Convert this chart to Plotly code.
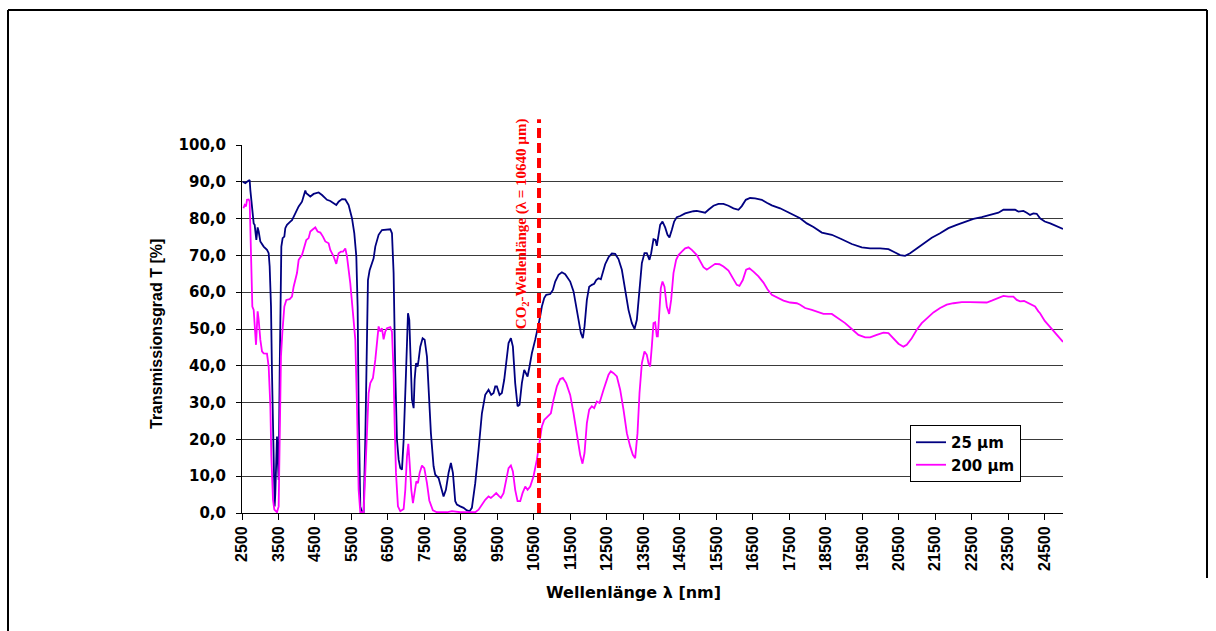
import plotly.graph_objects as go

# --- transmission spectra: wavelength [nm] and transmission [%] ---
wl_25 = [2520, 2591, 2637, 2683, 2710, 2728, 2774, 2820, 2847, 2865, 2893, 2929, 2957, 3002,
         3094, 3185, 3231, 3258, 3295, 3322, 3349, 3368, 3395, 3413, 3440, 3459, 3477, 3505,
         3532, 3550, 3578, 3614, 3660, 3687, 3733, 3824, 3870, 3961, 4053, 4144, 4189, 4235,
         4262, 4326, 4372, 4463, 4600, 4692, 4829, 4920, 5011, 5084, 5148, 5240, 5331, 5422,
         5514, 5578, 5633, 5669, 5696, 5742, 5788, 5833, 5879, 5925, 5952, 5998, 6062, 6107,
         6153, 6244, 6336, 6473, 6564, 6610, 6655, 6701, 6747, 6793, 6838, 6884, 6930, 6994,
         7049, 7085, 7112, 7158, 7204, 7231, 7268, 7313, 7340, 7386, 7450, 7505, 7569, 7613,
         7677, 7750, 7796, 7887, 7951, 8024, 8088, 8161, 8225, 8280, 8344, 8390, 8481, 8572,
         8663, 8737, 8800, 8892, 8983, 9075, 9166, 9257, 9330, 9394, 9440, 9485, 9558, 9622,
         9686, 9759, 9805, 9869, 9924, 9987, 10052, 10106, 10170, 10234, 10289, 10326, 10380,
         10444, 10536, 10600, 10654, 10718, 10782, 10837, 10947, 11020, 11084, 11175, 11266,
         11357, 11494, 11586, 11659, 11723, 11787, 11841, 11887, 11951, 12015, 12088, 12152,
         12207, 12271, 12335, 12389, 12453, 12545, 12636, 12727, 12818, 12910, 13001, 13092,
         13184, 13257, 13321, 13394, 13458, 13530, 13594, 13667, 13713, 13777, 13832, 13868,
         13914, 13960, 14024, 14097, 14161, 14215, 14279, 14343, 14416, 14508, 14645, 14782,
         14873, 14964, 15056, 15193, 15284, 15421, 15558, 15695, 15832, 15969, 16106, 16197,
         16307, 16425, 16562, 16745, 16882, 17019, 17247, 17430, 17613, 17796, 17979, 18161,
         18390, 18664, 18937, 19211, 19485, 19714, 19988, 20216, 20399, 20536, 20673, 20810,
         20992, 21175, 21403, 21632, 21860, 22088, 22316, 22545, 22773, 23001, 23230, 23367,
         23549, 23686, 23778, 23915, 24006, 24097, 24188, 24280, 24371, 24500, 24650, 24800,
         25000]
t_25 = [90.0, 89.6, 90.0, 90.3, 90.5, 87.8, 83.3, 78.7, 78.3, 76.9, 74.2, 77.6, 76.5, 73.8,
        72.4, 71.5, 70.6, 67.0, 56.1, 38.0, 19.9, 6.3, 1.8, 5.4, 19.9, 20.8, 15.4, 9.0,
        38.0, 56.1, 72.4, 74.7, 75.1, 77.4, 78.3, 79.2, 79.6, 81.4, 83.3, 84.6, 86.0, 87.6,
        86.9, 86.4, 86.0, 86.7, 87.1, 86.4, 85.1, 84.8, 84.2, 83.7, 84.6, 85.3, 85.2, 83.7,
        80.1, 76.0, 69.7, 56.1, 29.0, 1.8, 0.2, 0.2, 19.9, 47.0, 63.3, 66.0, 67.9, 69.2,
        72.4, 75.6, 76.9, 76.9, 77.1, 76.0, 65.2, 38.0, 19.9, 14.5, 12.2, 11.8, 19.9, 38.0,
        54.3, 52.5, 42.5, 30.8, 28.5, 36.2, 40.7, 39.8, 41.6, 45.2, 47.5, 47.1, 42.5, 33.5,
        21.7, 12.7, 10.4, 9.5, 7.2, 4.5, 6.3, 10.9, 13.6, 10.9, 3.2, 2.3, 1.8, 1.4,
        0.7, 0.5, 1.4, 8.1, 17.2, 27.1, 32.1, 33.5, 32.1, 32.6, 34.4, 34.4, 32.1, 32.6,
        36.2, 42.5, 46.2, 47.5, 45.2, 35.3, 29.0, 29.4, 35.3, 38.9, 38.0, 37.1, 39.8,
        43.4, 47.1, 49.8, 52.5, 56.1, 58.4, 59.3, 59.5, 60.6, 62.9, 64.7, 65.4,
        64.9, 62.9, 60.2, 56.1, 52.0, 48.9, 47.5, 50.7, 57.9, 61.5, 62.0, 62.3,
        63.3, 63.8, 63.5, 65.4, 67.6, 69.5, 70.5, 70.4, 69.0, 66.1, 60.6, 55.2,
        51.6, 50.0, 52.5, 61.5, 67.9, 70.6, 70.6, 68.8, 70.6, 74.4, 74.2, 72.6,
        75.1, 78.3, 79.2, 77.6, 75.6, 74.9, 76.9, 79.2, 80.4, 80.7, 81.4, 81.8,
        82.0, 82.1, 81.9, 81.6, 82.4, 83.5, 84.0, 84.0, 83.5, 82.8, 82.4, 83.4,
        85.1, 85.6, 85.5, 85.1, 84.3, 83.6, 82.8, 81.9, 81.2, 80.1, 78.7, 77.7,
        76.2, 75.6, 74.4, 73.1, 72.2, 71.9, 71.9, 71.7, 70.8, 70.1, 69.9, 70.6,
        71.9, 73.3, 74.8, 76.0, 77.4, 78.3, 79.2, 79.9, 80.4, 81.0, 81.6, 82.4,
        82.5, 82.4, 81.9, 82.1, 81.6, 81.0, 81.4, 81.3, 80.1, 79.2, 78.7, 78.0,
        77.2]

wl_200 = [2540, 2573, 2610, 2637, 2683, 2710, 2728, 2756, 2783, 2820, 2847, 2884, 2929, 2957,
          3002, 3048, 3094, 3185, 3231, 3277, 3304, 3349, 3386, 3459, 3505, 3532, 3568, 3605,
          3660, 3715, 3806, 3870, 3915, 4007, 4053, 4144, 4207, 4262, 4326, 4372, 4445, 4509,
          4573, 4646, 4719, 4783, 4874, 4920, 5011, 5084, 5148, 5212, 5267, 5331, 5377, 5422,
          5468, 5541, 5605, 5651, 5696, 5742, 5833, 5879, 5925, 5970, 6016, 6089, 6153, 6198,
          6244, 6290, 6336, 6381, 6427, 6473, 6564, 6610, 6655, 6683, 6720, 6774, 6838, 6930,
          6975, 7021, 7058, 7094, 7140, 7185, 7231, 7277, 7322, 7368, 7432, 7496, 7569, 7633,
          7732, 7842, 8116, 8253, 8481, 8892, 8983, 9075, 9166, 9257, 9321, 9394, 9467, 9531,
          9595, 9668, 9741, 9805, 9869, 9924, 9987, 10052, 10125, 10188, 10262, 10326, 10398,
          10490, 10581, 10654, 10718, 10782, 10901, 10965, 11038, 11129, 11220, 11294, 11385,
          11494, 11586, 11677, 11768, 11832, 11887, 11951, 12015, 12088, 12152, 12225, 12298,
          12408, 12481, 12545, 12608, 12682, 12773, 12864, 12955, 13047, 13138, 13211, 13275,
          13339, 13394, 13458, 13530, 13594, 13640, 13686, 13731, 13777, 13823, 13868, 13896,
          13932, 13978, 14024, 14078, 14142, 14206, 14261, 14325, 14398, 14462, 14553, 14645,
          14736, 14827, 14964, 15056, 15147, 15238, 15357, 15467, 15585, 15695, 15832, 15950,
          16060, 16133, 16225, 16316, 16407, 16517, 16654, 16791, 16900, 17019, 17156, 17339,
          17521, 17704, 17796, 17933, 18116, 18298, 18435, 18664, 18846, 19029, 19211, 19394,
          19577, 19714, 19896, 20079, 20216, 20353, 20490, 20627, 20718, 20855, 20992, 21129,
          21266, 21449, 21632, 21814, 21997, 22225, 22453, 22682, 22910, 23047, 23230, 23367,
          23504, 23640, 23732, 23823, 23933, 24051, 24143, 24234, 24325, 24371, 24500, 24650,
          24800, 25000]
t_200 = [82.8, 83.7, 83.3, 85.1, 85.2, 84.6, 77.8, 67.0, 56.1, 55.2, 51.6, 45.7, 54.8, 52.5,
         47.1, 43.9, 43.4, 43.3, 39.8, 29.0, 15.4, 3.6, 0.9, 0.2, 1.8, 19.9, 42.5, 48.9,
         56.1, 57.9, 58.1, 58.8, 61.5, 65.2, 68.8, 70.1, 72.4, 74.2, 74.7, 76.5, 77.1, 77.6,
         76.5, 76.2, 75.1, 73.8, 73.3, 71.5, 69.7, 67.7, 70.6, 71.0, 71.0, 71.9, 69.7, 66.1,
         62.4, 54.3, 47.1, 29.0, 6.3, 0.2, 0.2, 10.9, 24.4, 32.6, 35.3, 36.7, 41.6, 47.1,
         50.7, 49.3, 50.2, 47.2, 49.3, 50.2, 50.5, 49.3, 38.0, 24.4, 10.9, 1.8, 0.5, 1.1,
         6.3, 15.4, 18.8, 13.6, 6.3, 2.7, 6.3, 8.6, 8.1, 10.9, 12.9, 12.2, 8.1, 3.4,
         0.7, 0.2, 0.2, 0.5, 0.2, 0.2, 0.9, 2.3, 3.6, 4.5, 4.1, 4.7, 5.4, 4.7,
         4.1, 5.4, 9.0, 12.2, 12.9, 11.3, 6.3, 3.2, 3.2, 5.4, 7.2, 6.3, 7.2,
         10.0, 14.5, 19.9, 23.5, 25.3, 26.4, 27.1, 30.8, 34.4, 36.4, 36.7, 35.3,
         32.1, 27.1, 21.7, 15.8, 13.4, 16.3, 24.4, 28.1, 29.0, 28.5, 30.3, 29.9,
         33.5, 35.8, 37.6, 38.5, 38.0, 37.1, 33.5, 28.1, 21.7, 18.1, 15.8, 14.9,
         21.7, 32.6, 40.7, 43.9, 43.0, 40.7, 39.8, 45.2, 51.6, 51.8, 48.0, 48.0,
         54.3, 61.1, 62.9, 61.5, 56.1, 54.1, 57.9, 65.2, 68.8, 70.1, 71.0, 71.9,
         72.2, 71.5, 70.1, 68.3, 66.8, 66.1, 67.0, 67.7, 67.6, 67.0, 65.9, 63.8,
         62.0, 61.7, 63.3, 66.1, 66.5, 65.6, 64.3, 62.6, 60.8, 59.3, 58.6, 57.7,
         57.2, 57.0, 56.6, 55.7, 55.2, 54.5, 54.1, 54.1, 52.9, 51.6, 50.0, 48.4,
         47.7, 47.7, 48.4, 49.0, 48.9, 47.5, 46.0, 45.2, 45.7, 47.5, 49.8, 51.6,
         52.9, 54.5, 55.7, 56.6, 57.0, 57.3, 57.3, 57.2, 57.2, 57.7, 58.4, 59.0,
         58.8, 58.8, 57.9, 57.5, 57.6, 57.0, 56.6, 56.1, 54.8, 54.3, 52.2, 50.5,
         48.8, 46.5]

series_names = ["25 µm", "200 µm"]
series_colors = ["#000080", "#FF00FF"]

# --- axis ticks ---
x_tickvals = [2500, 3500, 4500, 5500, 6500, 7500, 8500, 9500, 10500, 11500, 12500, 13500,
              14500, 15500, 16500, 17500, 18500, 19500, 20500, 21500, 22500, 23500, 24500]
x_ticktext = ["2500", "3500", "4500", "5500", "6500", "7500", "8500", "9500", "10500",
              "11500", "12500", "13500", "14500", "15500", "16500", "17500", "18500",
              "19500", "20500", "21500", "22500", "23500", "24500"]
y_tickvals = [0, 10, 20, 30, 40, 50, 60, 70, 80, 90, 100]
y_ticktext = ["0,0", "10,0", "20,0", "30,0", "40,0", "50,0", "60,0", "70,0", "80,0",
              "90,0", "100,0"]

x_range = [2500, 25000]
y_range = [0, 100]

# CO2 laser marker
co2_wavelength = 10640
co2_line_top = 107  # in % units, reaches above the plot top
co2_label = "CO<sub>2</sub>-Wellenlänge (λ = 10640 µm)"

SANS_WIDE = "DejaVu Sans"
SANS = "Liberation Sans, Arial"
SERIF = "Liberation Serif, Times New Roman"

fig = go.Figure()
for wl, t, name, color in [(wl_25, t_25, series_names[0], series_colors[0]),
                           (wl_200, t_200, series_names[1], series_colors[1])]:
    fig.add_trace(go.Scatter(x=wl, y=t, mode="lines", name=name,
                             line=dict(color=color, width=1.8)))

W, H = 1216, 631
ml, mr, mt, mb = 242, 153, 145, 118
pw, ph = W - ml - mr, H - mt - mb


def px_to_paper_x(px):
    return (px - ml) / pw


def px_to_paper_y(py):
    return (H - mb - py) / ph


shapes = [
    # dashed CO2 marker line
    dict(type="line", xref="x", yref="paper", x0=co2_wavelength, x1=co2_wavelength,
         y0=0, y1=(co2_line_top - y_range[0]) / (y_range[1] - y_range[0]),
         line=dict(color="#FF0000", width=4, dash="10px,5px"), layer="above"),
    # outer chart frame
    dict(type="line", xref="paper", yref="paper", x0=px_to_paper_x(8), x1=px_to_paper_x(1207),
         y0=px_to_paper_y(10), y1=px_to_paper_y(10), line=dict(color="black", width=2)),
    dict(type="line", xref="paper", yref="paper", x0=px_to_paper_x(8), x1=px_to_paper_x(8),
         y0=px_to_paper_y(10), y1=px_to_paper_y(640), line=dict(color="black", width=2)),
    dict(type="line", xref="paper", yref="paper", x0=px_to_paper_x(1207), x1=px_to_paper_x(1207),
         y0=px_to_paper_y(10), y1=px_to_paper_y(578), line=dict(color="black", width=2)),
]

annotations = [
    dict(text=co2_label, x=co2_wavelength, y=78.5, xref="x", yref="y", xshift=-17,
         textangle=-90, showarrow=False, xanchor="center", yanchor="middle",
         font=dict(family=SERIF, size=15, color="#FF0000", weight="bold")),
    dict(text="Transmissionsgrad T [%]", x=px_to_paper_x(156), y=px_to_paper_y(334),
         xref="paper", yref="paper", textangle=-90, showarrow=False,
         xanchor="center", yanchor="middle",
         font=dict(family=SANS, size=16, color="black", weight="bold")),
    dict(text="Wellenlänge λ [nm]", x=px_to_paper_x(633), y=px_to_paper_y(592), xref="paper",
         yref="paper", showarrow=False, xanchor="center", yanchor="middle",
         font=dict(family=SANS_WIDE, size=16, color="black", weight="bold")),
]

fig.update_layout(
    width=W, height=H,
    margin=dict(l=ml, r=mr, t=mt, b=mb, autoexpand=False),
    paper_bgcolor="white", plot_bgcolor="white",
    showlegend=True,
    legend=dict(x=px_to_paper_x(910), y=px_to_paper_y(425), xanchor="left", yanchor="top",
                bgcolor="white", bordercolor="black", borderwidth=1,
                font=dict(family=SANS_WIDE, size=15, color="black", weight="bold"),
                tracegroupgap=0, itemwidth=30),
    xaxis=dict(range=x_range, tickmode="array", tickvals=x_tickvals, ticktext=x_ticktext,
               tickangle=-90, showline=True, linecolor="black", linewidth=1,
               ticks="outside", ticklen=6, tickcolor="black", showgrid=False, zeroline=False,
               tickfont=dict(family=SANS, size=16, color="black", weight="bold"),
               automargin=False),
    yaxis=dict(range=y_range, tickmode="array", tickvals=y_tickvals, ticktext=y_ticktext,
               showline=True, linecolor="black", linewidth=1,
               ticks="outside", ticklen=5, tickcolor="black", ticklabelstandoff=7,
               showgrid=True, gridcolor="#3a3a3a", gridwidth=1, zeroline=False,
               tickfont=dict(family=SANS_WIDE, size=15, color="black", weight="bold"),
               automargin=False),
    shapes=shapes,
    annotations=annotations,
)

fig.write_html("out.html")
